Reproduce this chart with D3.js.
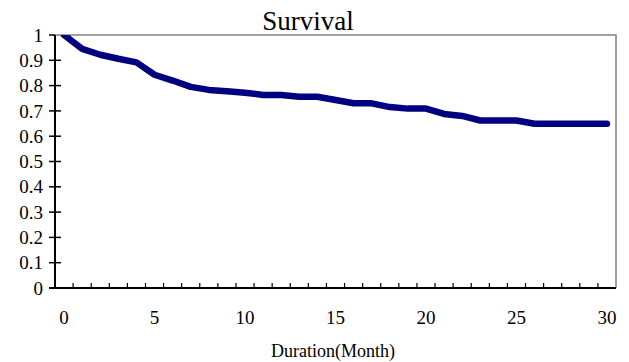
<!DOCTYPE html>
<html>
<head>
<meta charset="utf-8">
<script src="https://cdn.jsdelivr.net/npm/d3@7/dist/d3.min.js"></script>
<style>
  html, body { margin: 0; padding: 0; background: #fff; }
  svg { display: block; }
</style>
</head>
<body>
<svg id="chart" width="629" height="362"></svg>
<script>
// Survival proportion by month of follow-up
const months = d3.range(0, 31);
const survival = [
  1.000, 0.945, 0.922, 0.906, 0.892, 0.843, 0.820, 0.795, 0.783, 0.778,
  0.772, 0.763, 0.763, 0.756, 0.756, 0.743, 0.730, 0.730, 0.715, 0.709,
  0.709, 0.688, 0.680, 0.662, 0.662, 0.662, 0.649, 0.649, 0.649, 0.649,
  0.649
];
const yTicks = [0, 0.1, 0.2, 0.3, 0.4, 0.5, 0.6, 0.7, 0.8, 0.9, 1];
const xLabels = [0, 5, 10, 15, 20, 25, 30];

const FONT = "'Liberation Serif', 'Times New Roman', Times, 'DejaVu Serif', serif";

const svg = d3.select("#chart");
const plot = { left: 55, right: 616, top: 35, bottom: 288 };

const x = d3.scaleBand().domain(months).range([plot.left, plot.right]).padding(0);
const y = d3.scaleLinear().domain([0, 1]).range([plot.bottom, plot.top]);
const cx = d => x(d) + x.bandwidth() / 2;

// plot area frame (top and right in grey)
svg.append("path")
  .attr("d", `M${plot.left},${plot.top}H${plot.right}V${plot.bottom}`)
  .attr("fill", "none").attr("stroke", "#808080").attr("stroke-width", 1.5);

// clip for the series
svg.append("clipPath").attr("id", "clip")
  .append("rect")
  .attr("x", plot.left).attr("y", plot.top)
  .attr("width", plot.right - plot.left).attr("height", plot.bottom - plot.top);

// survival line
const line = d3.line().x((d, i) => cx(months[i])).y(d => y(d));
svg.append("path")
  .datum(survival)
  .attr("clip-path", "url(#clip)")
  .attr("d", line)
  .attr("fill", "none")
  .attr("stroke", "#000080")
  .attr("stroke-width", 6.5)
  .attr("stroke-linejoin", "round")
  .attr("stroke-linecap", "round");

// y axis
const yAxis = svg.append("g");
yAxis.append("line")
  .attr("x1", plot.left).attr("x2", plot.left)
  .attr("y1", plot.top).attr("y2", plot.bottom + 1)
  .attr("stroke", "#000").attr("stroke-width", 2);
yAxis.selectAll("line.tick").data(yTicks).join("line")
  .attr("class", "tick")
  .attr("x1", plot.left - 6).attr("x2", d => d === 1 ? plot.left : plot.left + 6)
  .attr("y1", d => y(d)).attr("y2", d => y(d))
  .attr("stroke", "#000").attr("stroke-width", 1.5);
yAxis.selectAll("text").data(yTicks).join("text")
  .attr("x", plot.left - 12)
  .attr("y", d => y(d))
  .attr("dy", "0.35em")
  .attr("text-anchor", "end")
  .attr("font-family", FONT)
  .attr("font-size", 19)
  .text(d => d3.format("")(d));

// x axis
const xAxis = svg.append("g");
xAxis.append("line")
  .attr("x1", plot.left - 6).attr("x2", plot.right)
  .attr("y1", plot.bottom).attr("y2", plot.bottom)
  .attr("stroke", "#000").attr("stroke-width", 2);
xAxis.selectAll("line.tick").data(months.slice(1)).join("line")
  .attr("class", "tick")
  .attr("x1", d => x(d)).attr("x2", d => x(d))
  .attr("y1", plot.bottom).attr("y2", plot.bottom - 5)
  .attr("stroke", "#000").attr("stroke-width", 1.2);
xAxis.selectAll("text").data(xLabels).join("text")
  .attr("x", d => cx(d))
  .attr("y", 324)
  .attr("text-anchor", "middle")
  .attr("font-family", FONT)
  .attr("font-size", 19)
  .text(d => d);

// titles
svg.append("text")
  .attr("x", 308).attr("y", 30)
  .attr("text-anchor", "middle")
  .attr("font-family", FONT)
  .attr("font-size", 27)
  .text("Survival");
svg.append("text")
  .attr("x", 333).attr("y", 357)
  .attr("text-anchor", "middle")
  .attr("font-family", FONT)
  .attr("font-size", 18)
  .text("Duration(Month)");
</script>
</body>
</html>
